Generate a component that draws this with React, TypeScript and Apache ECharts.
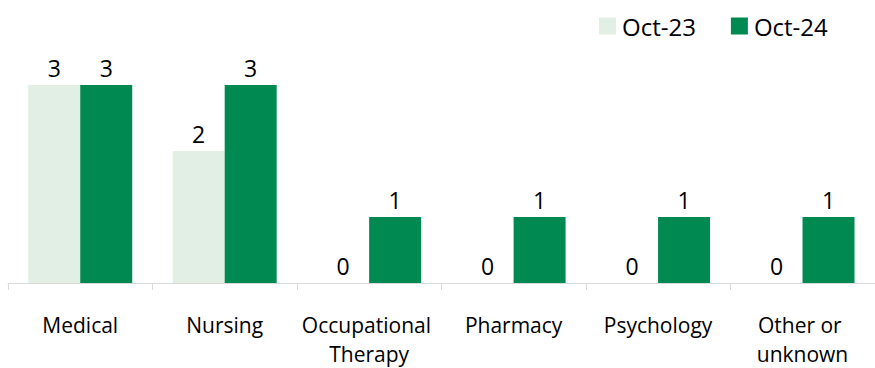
import React, { useEffect, useRef } from "react";
import * as echarts from "echarts";

const categories = ["Medical", "Nursing", "Occupational Therapy", "Pharmacy", "Psychology", "Other or unknown"];
const seriesNames = ["Oct-23", "Oct-24"];
const oct23 = [3, 2, 0, 0, 0, 0];
const oct24 = [3, 3, 1, 1, 1, 1];

export default function App() {
  const ref = useRef<HTMLDivElement>(null);
  useEffect(() => {
    if (!ref.current) return;
    const chart = echarts.init(ref.current, undefined, { renderer: "svg" });
    const font = "'Open Sans', sans-serif";
    const labelStyle = {
      show: true,
      position: "top" as const,
      distance: 6,
      color: "#000",
      fontSize: 23,
      fontFamily: font,
    };
    chart.setOption({
      animation: false,
      textStyle: { fontFamily: font },
      legend: {
        data: seriesNames,
        left: 594,
        top: 9,
        itemWidth: 17,
        itemHeight: 17,
        itemGap: 35,
        icon: "rect",
        textStyle: { fontSize: 24, color: "#000", fontFamily: font, padding: [0, 0, 0, 1] },
      },
      grid: { left: 8, top: 85, width: 873, height: 205, containLabel: false },
      xAxis: {
        type: "category",
        data: categories,
        axisLine: { lineStyle: { color: "#d9d9d9", width: 1 } },
        axisTick: { show: true, length: 7, lineStyle: { color: "#d9d9d9" } },
        axisLabel: {
          interval: 0,
          color: "#000",
          fontSize: 21,
          fontFamily: font,
          margin: 27,
          width: 140,
          overflow: "break",
          lineHeight: 29,
        },
      },
      yAxis: {
        type: "value",
        min: 0,
        max: 3,
        show: false,
        splitLine: { show: false },
      },
      series: [
        {
          name: seriesNames[0],
          type: "bar",
          data: oct23,
          barWidth: 52,
          barGap: "0%",
          itemStyle: { color: "#E2EFE4" },
          label: labelStyle,
        },
        {
          name: seriesNames[1],
          type: "bar",
          data: oct24,
          barWidth: 52,
          barGap: "0%",
          itemStyle: { color: "#008A52" },
          label: labelStyle,
        },
      ],
    });
    return () => chart.dispose();
  }, []);
  return (
    <div
      ref={ref}
      style={{ position: "fixed", left: 0, top: 0, width: 875, height: 368, background: "#fff" }}
    />
  );
}
